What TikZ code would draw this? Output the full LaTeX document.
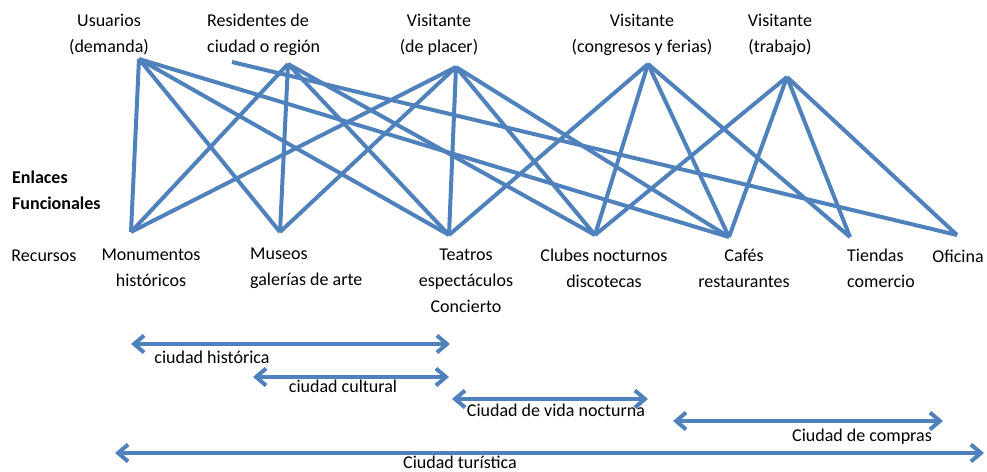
\documentclass[tikz,border=0pt]{standalone}
\usepackage{fontspec}
\setmainfont{Carlito}
\usetikzlibrary{arrows.meta}
\definecolor{linkblue}{RGB}{79,129,189}
\tikzset{
  link/.style={draw=linkblue,line width=4pt},
  span/.style={draw=linkblue,line width=4pt,
    {Straight Barb[length=10pt,width=17pt]}-{Straight Barb[length=10pt,width=17pt]}},
  lbl/.style={inner sep=0pt,align=center,font=\fontsize{18}{26}\selectfont},
}
\begin{document}
\begin{tikzpicture}[x=1pt,y=-1pt]
    \useasboundingbox (0,0) rectangle (987,471);
    %% Usuarios
    \node[lbl] (usr) at (109,35) {Usuarios\\(demanda)};
    \node[lbl,align=left,anchor=west] (res) at (207,35) {Residentes de\\ciudad o región};
    \node[lbl] (vpl) at (439,35) {Visitante\\(de placer)};
    \node[lbl] (vcf) at (642,35) {Visitante\\(congresos y ferias)};
    \node[lbl] (vtr) at (780,35) {Visitante\\(trabajo)};
    %% Recursos
    \node[lbl,align=left,anchor=west,font=\fontsize{18}{26}\selectfont\bfseries] (enl) at (12,190) {Enlaces\\Funcionales};
    \node[lbl] (rec) at (44,256) {Recursos};
    \node[lbl] (mon) at (151,268) {Monumentos\\históricos};
    \node[lbl,align=left,anchor=west] (mus) at (250,268) {Museos\\galerías de arte};
    \node[lbl] (tea) at (466,281) {Teatros\\espectáculos\\Concierto};
    \node[lbl] (clu) at (604,268) {Clubes nocturnos\\discotecas};
    \node[lbl] (caf) at (744,268) {Cafés\\restaurantes};
    \node[lbl,align=left,anchor=west] (tie) at (847,268) {Tiendas\\comercio};
    \node[lbl] (ofi) at (958,256) {Oficina};
    %% link ends
    \coordinate (u) at (139,59);
    \coordinate (r) at (288,64);
    \coordinate (r0) at (232,62);
    \coordinate (p1) at (456,67);
    \coordinate (p2) at (648,64);
    \coordinate (p3) at (787,77);
    \coordinate (k1) at (131,232);
    \coordinate (k2) at (280,232);
    \coordinate (k3) at (449,235);
    \coordinate (k4) at (595,235);
    \coordinate (k5) at (729,237);
    \coordinate (k6) at (850,237);
    \coordinate (k7) at (957,235);
    %% links
    \foreach \a/\b in {u/k1,u/k2,u/k3,u/k5,r/k1,r/k2,r/k3,r/k4,r0/k7,
        p1/k1,p1/k2,p1/k3,p1/k4,p1/k5,p2/k3,p2/k4,p2/k5,p2/k6,
        p3/k4,p3/k5,p3/k6,p3/k7}
        \draw[link] (\a) -- (\b);
    %% ciudades
    \draw[span] (131,344) -- (450,344);
    \node[lbl] (chi) at (212,357) {ciudad histórica};
    \draw[span] (253,377) -- (449,377);
    \node[lbl] (ccu) at (343,386) {ciudad cultural};
    \draw[span] (452,399) -- (648,399);
    \node[lbl] (cvn) at (556,410) {Ciudad de vida nocturna};
    \draw[span] (673,421) -- (943,421);
    \node[lbl] (cco) at (862,437) {Ciudad de compras};
    \draw[span] (115,453) -- (984,453);
    \node[lbl] (ctu) at (460,462) {Ciudad turística};
\end{tikzpicture}
\end{document}
